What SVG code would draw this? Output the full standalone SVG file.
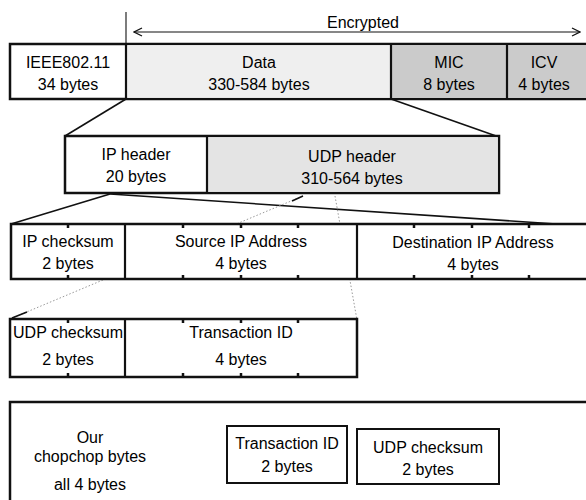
<svg xmlns="http://www.w3.org/2000/svg" width="586" height="500" viewBox="0 0 586 500">
<defs>
<style>
text{font-family:"Liberation Sans",Arial,sans-serif;font-size:16px;fill:#000;text-anchor:middle}
.box{fill:#fff;stroke:#111;stroke-width:2.5}
.div{stroke:#111;stroke-width:2.2;fill:none}
.light{fill:#efefef}
.dark{fill:#cbcbcb}
.mid{fill:#e4e4e4}
.zoom{stroke:#111;stroke-width:1.6;fill:none}
.dot{stroke:#999;stroke-width:1;stroke-dasharray:1.5 2;fill:none}
.tick{stroke:#111;stroke-width:2.5}
.thin{stroke:#111;stroke-width:1.1;fill:none}
</style>
<marker id="ah" markerWidth="10" markerHeight="10" refX="9" refY="5" orient="auto-start-reverse" markerUnits="userSpaceOnUse">
<path d="M1,1 L9,5 L1,9" fill="none" stroke="#111" stroke-width="1.3"/>
</marker>
</defs>

<g id="connectors">
<line class="thin" x1="126" y1="12" x2="126" y2="44"/>
<line class="thin" x1="134" y1="32" x2="580" y2="32" marker-start="url(#ah)" marker-end="url(#ah)"/>
<line class="zoom" x1="126" y1="99" x2="65" y2="136"/>
<line class="zoom" x1="391" y1="99" x2="499" y2="137"/>
<line class="zoom" x1="110" y1="194" x2="11" y2="224"/>
<line class="zoom" x1="110" y1="194" x2="586" y2="226"/>
<line class="dot" x1="303" y1="196" x2="10" y2="319"/>
<line class="zoom" x1="292" y1="201" x2="303" y2="196"/>
<line class="zoom" x1="27" y1="312" x2="12" y2="318"/>
<line class="dot" x1="335" y1="196" x2="357" y2="320"/>
</g>

<g id="encrypted-label">
<text x="363" y="28">Encrypted</text>
</g>

<g id="row1">
<rect class="box" x="10" y="44" width="600" height="55"/>
<rect class="light" x="127.2" y="45.2" width="263" height="52.6"/>
<rect class="dark" x="392" y="45.2" width="220" height="52.6"/>
<line class="div" x1="126" y1="44" x2="126" y2="99"/>
<line class="div" x1="391" y1="44" x2="391" y2="99"/>
<line class="div" x1="507" y1="44" x2="507" y2="99"/>
<g id="ieee"><text x="68" y="68">IEEE802.11</text><text x="68" y="90">34 bytes</text></g>
<g id="data"><text x="259" y="68">Data</text><text x="259" y="90">330-584 bytes</text></g>
<g id="mic"><text x="449" y="68">MIC</text><text x="449" y="90">8 bytes</text></g>
<g id="icv"><text x="544" y="68">ICV</text><text x="544" y="90">4 bytes</text></g>
</g>

<g id="row2">
<rect class="box" x="65" y="136" width="434" height="57"/>
<rect class="mid" x="208" y="137.2" width="289.8" height="54.6"/>
<line class="div" x1="207" y1="136" x2="207" y2="193"/>
<g id="ip-header"><text x="136" y="160">IP header</text><text x="136" y="182">20 bytes</text></g>
<g id="udp-header"><text x="352" y="162">UDP header</text><text x="352" y="184">310-564 bytes</text></g>
</g>

<g id="row3">
<rect class="box" x="11" y="224" width="600" height="55"/>
<line class="div" x1="125" y1="224" x2="125" y2="279"/>
<line class="div" x1="357" y1="224" x2="357" y2="279"/>
<g class="tick">
<line x1="68" y1="224" x2="68" y2="228"/><line x1="68" y1="279" x2="68" y2="275"/>
<line x1="183" y1="224" x2="183" y2="228"/><line x1="183" y1="279" x2="183" y2="275"/>
<line x1="241" y1="224" x2="241" y2="228"/><line x1="241" y1="279" x2="241" y2="275"/>
<line x1="298" y1="224" x2="298" y2="228"/><line x1="298" y1="279" x2="298" y2="275"/>
<line x1="414" y1="224" x2="414" y2="228"/><line x1="414" y1="279" x2="414" y2="275"/>
<line x1="472" y1="224" x2="472" y2="228"/><line x1="472" y1="279" x2="472" y2="275"/>
<line x1="529" y1="224" x2="529" y2="228"/><line x1="529" y1="279" x2="529" y2="275"/>
</g>
<g id="ip-checksum"><text x="68" y="247">IP checksum</text><text x="68" y="269">2 bytes</text></g>
<g id="source-ip"><text x="241" y="247">Source IP Address</text><text x="241" y="269">4 bytes</text></g>
<g id="dest-ip"><text x="473" y="248">Destination IP Address</text><text x="473" y="270">4 bytes</text></g>
</g>

<g id="row4">
<rect class="box" x="10" y="319" width="347" height="58"/>
<line class="div" x1="125" y1="319" x2="125" y2="377"/>
<g class="tick">
<line x1="68" y1="319" x2="68" y2="323"/><line x1="68" y1="377" x2="68" y2="373"/>
<line x1="183" y1="319" x2="183" y2="323"/><line x1="183" y1="377" x2="183" y2="373"/>
<line x1="241" y1="319" x2="241" y2="323"/><line x1="241" y1="377" x2="241" y2="373"/>
<line x1="298" y1="319" x2="298" y2="323"/><line x1="298" y1="377" x2="298" y2="373"/>
</g>
<g id="udp-checksum"><text x="68" y="338">UDP checksum</text><text x="68" y="365">2 bytes</text></g>
<g id="transaction-id"><text x="241" y="338">Transaction ID</text><text x="241" y="365">4 bytes</text></g>
</g>

<g id="row5">
<rect class="box" x="10" y="402" width="600" height="110"/>
<g id="chopchop"><text x="90" y="443">Our</text><text x="90" y="462">chopchop bytes</text><text x="90" y="490">all 4 bytes</text></g>
<g id="tid-2"><rect class="box" x="227" y="426" width="120" height="57" style="stroke-width:2"/><text x="287" y="449">Transaction ID</text><text x="287" y="472">2 bytes</text></g>
<g id="udp-2"><rect class="box" x="357" y="429" width="142" height="55" style="stroke-width:2"/><text x="428" y="453">UDP checksum</text><text x="428" y="475">2 bytes</text></g>
</g>
</svg>
